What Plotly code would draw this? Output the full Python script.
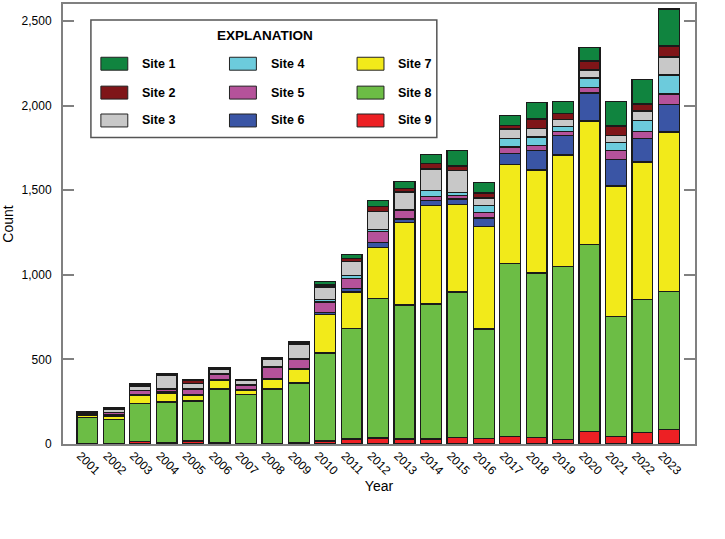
import plotly.graph_objects as go

years = [str(y) for y in range(2001, 2024)]

site9 = [2, 2, 14, 8, 18, 8, 4, 5, 8, 18, 29, 35, 29, 29, 39, 33, 45, 39, 27, 75, 43, 67, 84]
site8 = [153, 141, 227, 241, 237, 317, 288, 320, 353, 519, 655, 824, 793, 798, 859, 647, 1020, 971, 1020, 1105, 710, 788, 818]
site7 = [16, 22, 45, 53, 33, 50, 28, 59, 78, 230, 214, 304, 486, 583, 516, 606, 588, 610, 661, 728, 772, 812, 941]
site6 = [0, 6, 4, 6, 4, 4, 3, 4, 4, 11, 20, 27, 21, 27, 33, 49, 63, 113, 114, 167, 155, 137, 163]
site5 = [5, 15, 28, 15, 30, 33, 26, 65, 55, 61, 62, 67, 49, 26, 20, 32, 39, 30, 23, 33, 55, 43, 63]
site4 = [0, 2, 0, 4, 4, 4, 3, 4, 4, 14, 16, 10, 6, 33, 21, 43, 49, 51, 30, 55, 47, 65, 111]
site3 = [4, 14, 21, 77, 33, 25, 22, 41, 88, 74, 82, 108, 106, 129, 130, 43, 57, 51, 43, 47, 43, 55, 106]
site2 = [10, 6, 10, 4, 16, 8, 5, 8, 6, 12, 18, 27, 18, 32, 25, 31, 23, 55, 35, 53, 55, 43, 65]
site1 = [4, 4, 6, 8, 5, 4, 3, 4, 6, 20, 22, 35, 43, 55, 90, 63, 59, 98, 71, 78, 142, 145, 220]

names = ["Site 1", "Site 2", "Site 3", "Site 4", "Site 5", "Site 6", "Site 7", "Site 8", "Site 9"]
series = [site1, site2, site3, site4, site5, site6, site7, site8, site9]
colors = ["#10843f", "#7f1518", "#c8c8c8", "#6ccbdc", "#b5529a", "#3a55a5",
          "#f2ea1a", "#6cbd45", "#ed2024"]

FONT = "Liberation Sans, Arial, sans-serif"

fig = go.Figure()
# stack from bottom: Site 9 ... Site 1
for name, vals, col in reversed(list(zip(names, series, colors))):
    fig.add_trace(go.Bar(
        x=years, y=vals, name=name,
        marker=dict(color=col, line=dict(color="#1a1a1a", width=1.3)),
        showlegend=False,
    ))

# plot area in pixels
L, R, T, B = 61, 695, 2, 444
W, H = 725, 539


def px(x):
    return (x - L) / (R - L)


def py(y):
    return (B - y) / (B - T)


shapes = []
annotations = []
# legend box
shapes.append(dict(type="rect", xref="paper", yref="paper",
                   x0=px(89), x1=px(436), y0=py(136), y1=py(18),
                   line=dict(color="#555555", width=1.5), fillcolor="white", layer="above"))
annotations.append(dict(xref="paper", yref="paper", x=px(264), y=py(34), text="<b>EXPLANATION</b>",
                        showarrow=False, xanchor="center", yanchor="middle",
                        font=dict(family=FONT, size=13.5, color="black")))
col_sw = [99, 228, 356]
col_tx = [138, 268, 395]
row_y = [62, 91, 119]
for i, (name, col) in enumerate(zip(names, colors)):
    c = i // 3
    r = i % 3
    yc = row_y[r]
    shapes.append(dict(type="rect", xref="paper", yref="paper",
                       x0=px(col_sw[c]), x1=px(col_sw[c] + 27), y0=py(yc + 6.5), y1=py(yc - 6.5),
                       line=dict(color="#222222", width=1), fillcolor=col, layer="above"))
    annotations.append(dict(xref="paper", yref="paper", x=px(col_tx[c]), y=py(yc), text="<b>" + name + "</b>",
                            showarrow=False, xanchor="left", yanchor="middle",
                            font=dict(family=FONT, size=12.5, color="black")))

fig.update_layout(
    barmode="stack",
    bargap=0.21,
    width=W, height=H,
    margin=dict(l=L, r=W - R, t=T, b=H - B),
    paper_bgcolor="white", plot_bgcolor="white",
    font=dict(family=FONT, size=12, color="black"),
    shapes=shapes,
    annotations=annotations,
    showlegend=False,
)
fig.update_xaxes(
    type="category", range=[-0.92, 22.99],
    showline=True, linecolor="#808080", linewidth=2, mirror=True,
    ticks="", tickangle=45, showgrid=False,
    ticklabelshift=-7, ticklabelstandoff=-2,
    tickfont=dict(family=FONT, size=12),
    title=dict(text="Year", font=dict(family=FONT, size=14), standoff=4),
)
fig.update_yaxes(
    range=[0, 2600], tickvals=[0, 500, 1000, 1500, 2000, 2500], tickformat=",",
    showline=True, linecolor="#808080", linewidth=2, mirror="allticks",
    ticks="inside", ticklen=11, tickwidth=2, tickcolor="#808080",
    ticklabelstandoff=7,
    showgrid=False, zeroline=False,
    tickfont=dict(family=FONT, size=12),
    title=dict(text="Count", font=dict(family=FONT, size=14), standoff=10),
)

fig.write_html("out.html")
